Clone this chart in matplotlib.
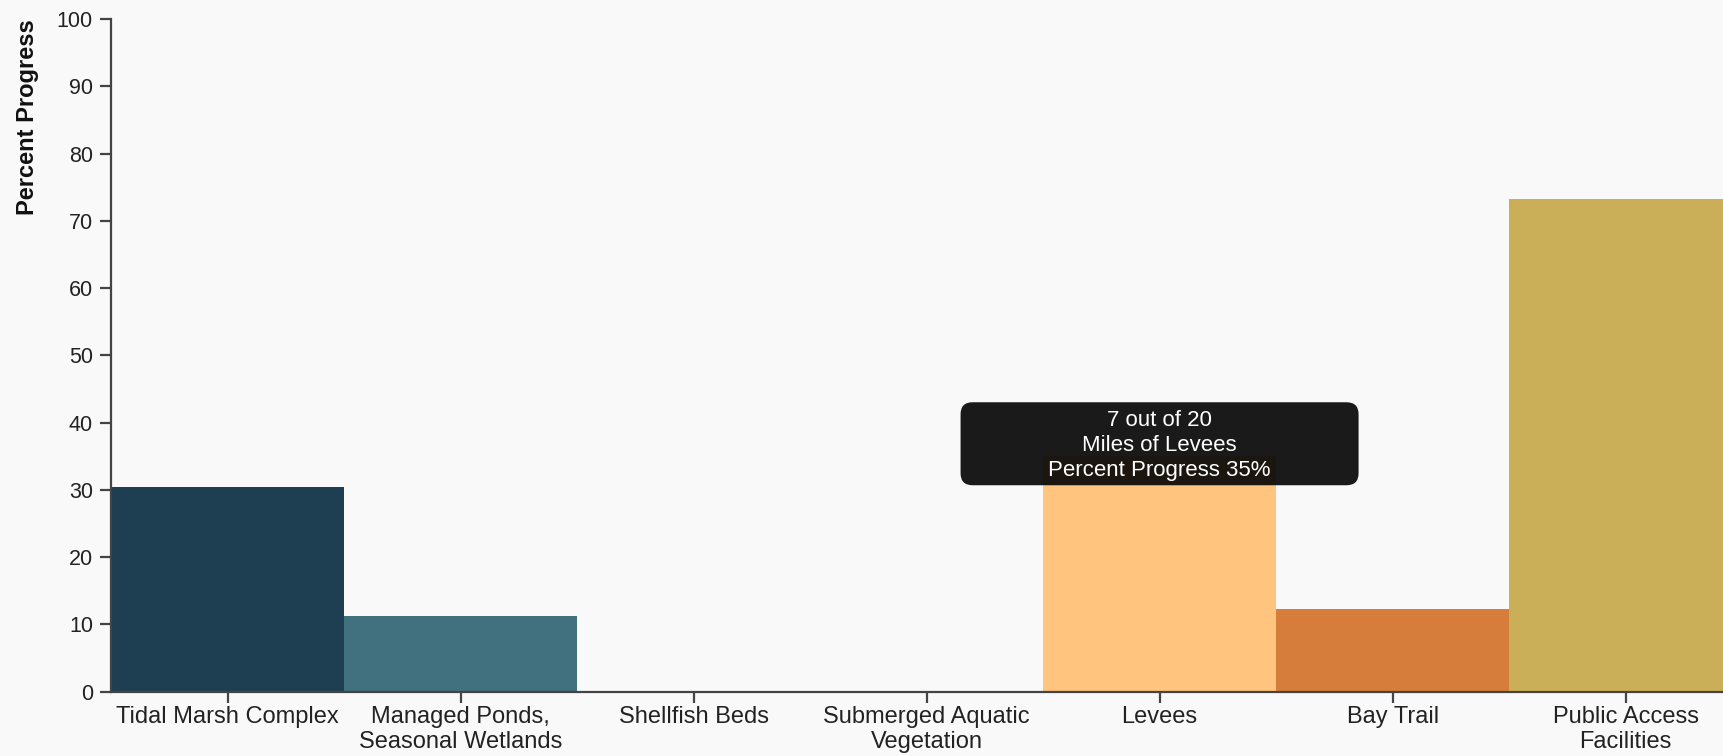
import matplotlib
matplotlib.use("Agg")
import matplotlib.pyplot as plt
from matplotlib.patches import FancyBboxPatch
from matplotlib.transforms import IdentityTransform

plt.rcParams['font.family'] = ['Liberation Sans', 'DejaVu Sans']

# data
categories = ["Tidal Marsh Complex", "Managed Ponds,\nSeasonal Wetlands", "Shellfish Beds",
              "Submerged Aquatic\nVegetation", "Levees", "Bay Trail", "Public Access\nFacilities"]
progress = [30.4, 11.3, 0, 0, 35, 12.3, 73.2]
bar_colors = ["#1d3f51", "#41717e", "#2f6b72", "#8c9a6a", "#ffc57f", "#d67d3b", "#cbaf58"]
y_ticks = [0, 10, 20, 30, 40, 50, 60, 70, 80, 90, 100]

tip_index = 4
tip_lines = ["7 out of 20", "Miles of Levees", "Percent Progress 35%"]

bg = "#f9f9f9"
axis_col = "#444444"

fig = plt.figure(figsize=(17.23, 7.56), dpi=100, facecolor=bg)
ax = fig.add_axes([111 / 1723, 1 - 691.7 / 756, 1 - 111 / 1723, (691.7 - 19) / 756])
ax.set_facecolor(bg)

x = list(range(len(categories)))
ax.bar(x, progress, width=1.0, color=bar_colors, linewidth=0, zorder=2)

ax.set_xlim(-0.5, 6.418)
ax.set_ylim(0, 100)
ax.set_yticks(y_ticks)
ax.set_xticks(x)
ax.set_xticklabels(categories, linespacing=1.22)

for s in ["top", "right"]:
    ax.spines[s].set_visible(False)
for s in ["left", "bottom"]:
    ax.spines[s].set_color(axis_col)
    ax.spines[s].set_linewidth(1.6)
    ax.spines[s].set_zorder(3)

ax.tick_params(axis="y", length=8, width=1.6, color=axis_col, labelsize=15.5, labelcolor="#222222", pad=5)
ax.tick_params(axis="x", length=8, width=1.6, color=axis_col, labelsize=17, labelcolor="#222222", pad=2)

fig.text(28 / 1723, 1 - 117 / 756, "Percent Progress", rotation=90, ha="center", va="center",
         fontsize=17, fontweight="bold", color="#111111")

# tooltip anchored at the top of the Levees bar (pixel offsets)
ax0, ay0 = ax.transData.transform((x[tip_index], progress[tip_index]))
box = FancyBboxPatch((ax0 - 199 + 12, ay0 - 29 + 12), 398 - 24, 83 - 24,
                     boxstyle="round,pad=12", transform=IdentityTransform(),
                     facecolor="#070707", edgecolor="none", alpha=0.92, zorder=5)
fig.add_artist(box)
for dy, line in zip([36, 11, -14], tip_lines):
    fig.text(ax0 / 1723, (ay0 + dy) / 756, line, ha="center", va="center",
             fontsize=16, color="white", zorder=6)

fig.savefig("out.png", dpi=100, facecolor=bg)
